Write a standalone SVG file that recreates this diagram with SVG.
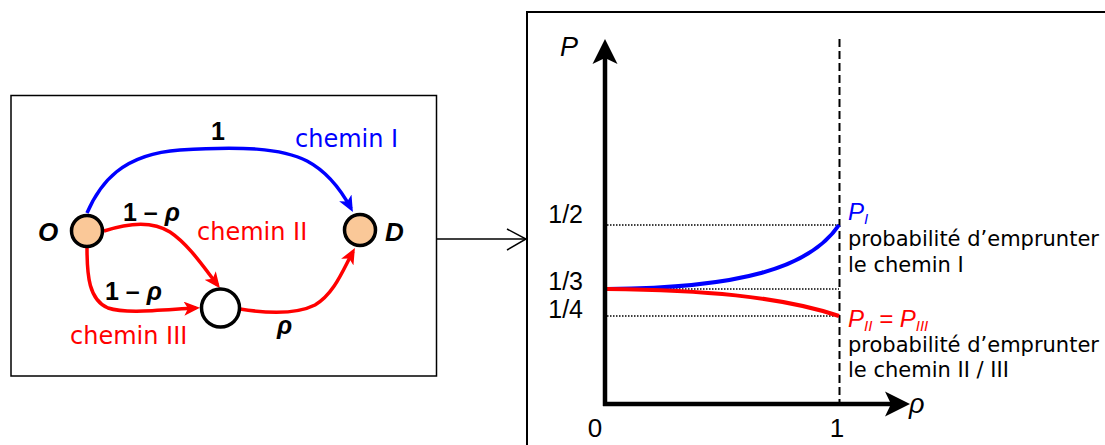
<svg xmlns="http://www.w3.org/2000/svg" width="1105" height="445" viewBox="0 0 1105 445">
<defs>
<style>
.frame{fill:none;stroke:#000}
.edge{fill:none;stroke-width:3.5;stroke-linecap:butt}
.blue{stroke:#0000FF}
.red{stroke:#FF0000}
.node{stroke:#000;stroke-width:3.5}
.lab{font-family:"DejaVu Sans",Verdana,sans-serif}
.ar{font-family:"Liberation Sans",Arial,sans-serif}
.dot{stroke:#000;stroke-width:1.5;stroke-dasharray:1.5 1.5;fill:none}
.curve{fill:none;stroke-width:4}
</style>
<marker id="ahB" viewBox="0 0 16 14" markerUnits="userSpaceOnUse" markerWidth="16" markerHeight="14" refX="12" refY="7" orient="auto">
<path d="M0,0 L16,7 L0,14 L4,7 z" fill="#0000FF"/>
</marker>
<marker id="ahR" viewBox="0 0 16 14" markerUnits="userSpaceOnUse" markerWidth="16" markerHeight="14" refX="12" refY="7" orient="auto">
<path d="M0,0 L16,7 L0,14 L4,7 z" fill="#FF0000"/>
</marker>
</defs>
<rect width="1105" height="445" fill="#fff"/>

<!-- left panel -->
<rect class="frame" x="11" y="95.5" width="425.5" height="280.5" stroke-width="1.5"/>

<g id="connectors">
<path class="edge blue" d="M87,213 C100,183 122,154 180,150 C240,146 282,148 307,161 C326,171 340,188 351,208.5" marker-end="url(#ahB)"/>
<path class="edge red" d="M104,231 C125,224 150,219 170,232 C188,244 203,266 217.5,285" marker-end="url(#ahR)"/>
<path class="edge red" d="M87,248 C87,276 89,300 108,308 C126,314 160,310 196,308" marker-end="url(#ahR)"/>
<path class="edge red" d="M240,309 C265,313 295,315 315,305 C334,294 343,270 353,251.5" marker-end="url(#ahR)"/>
</g>

<g id="node-O">
<circle class="node" cx="87" cy="231" r="15.5" fill="#FAC898"/>
<text class="ar" x="38" y="241" font-size="26" font-weight="bold" font-style="italic">O</text>
</g>
<g id="node-D">
<circle class="node" cx="360" cy="230" r="15.5" fill="#FAC898"/>
<text class="ar" x="385" y="241" font-size="26" font-weight="bold" font-style="italic">D</text>
</g>
<g id="node-M">
<circle class="node" cx="220.5" cy="308" r="19" fill="#fff"/>
</g>

<g id="edge-labels">
<text class="ar" x="218" y="140" font-size="25" font-weight="bold" text-anchor="middle">1</text>
<text class="lab" x="295" y="147" font-size="24" fill="#0000FF">chemin I</text>
<text class="ar" x="123" y="221" font-size="25" font-weight="bold">1 – <tspan font-style="italic">ρ</tspan></text>
<text class="lab" x="197" y="240" font-size="24" fill="#FF0000">chemin II</text>
<text class="ar" x="105" y="300" font-size="25" font-weight="bold">1 – <tspan font-style="italic">ρ</tspan></text>
<text class="lab" x="70" y="344" font-size="24" fill="#FF0000">chemin III</text>
<text class="ar" x="277" y="334" font-size="25" font-weight="bold" font-style="italic">ρ</text>
</g>

<!-- link between panels -->
<g id="link">
<line x1="436" y1="239" x2="526" y2="239" stroke="#000" stroke-width="1.5"/>
<polyline points="507,229 526,239 507,250" fill="none" stroke="#000" stroke-width="1.5"/>
</g>

<!-- right panel: chart -->
<rect class="frame" x="527" y="12" width="700" height="500" stroke-width="2"/>
<g id="chart">
<line x1="839.5" y1="39" x2="839.5" y2="404" stroke="#000" stroke-width="2" stroke-dasharray="8 4"/>
<line class="dot" x1="607" y1="225" x2="839" y2="225"/>
<line class="dot" x1="607" y1="289" x2="839" y2="289"/>
<line class="dot" x1="607" y1="316" x2="839" y2="316"/>
<path class="curve blue" d="M607,289 C740,288 810,268 839,225"/>
<path class="curve red" d="M607,289 C700,290 780,296 839,316"/>
<line x1="605" y1="406" x2="605" y2="56" stroke="#000" stroke-width="4.5"/>
<line x1="603" y1="404" x2="893" y2="404" stroke="#000" stroke-width="4.5"/>
<path d="M605,39 L617.5,64 L605,58 L592.5,64 z" fill="#000"/>
<path d="M910,404 L885,391.5 L891,404 L885,416.5 z" fill="#000"/>
<text class="ar" x="560" y="56" font-size="27" font-style="italic">P</text>
<text class="ar" x="909" y="413" font-size="27" font-style="italic">ρ</text>
<text class="ar" x="595" y="437" font-size="26" text-anchor="middle">0</text>
<text class="ar" x="837" y="437" font-size="26" text-anchor="middle">1</text>
<text class="ar" x="583" y="223" font-size="25" text-anchor="end">1/2</text>
<text class="ar" x="583" y="290" font-size="25" text-anchor="end">1/3</text>
<text class="ar" x="583" y="318" font-size="25" text-anchor="end">1/4</text>
<text class="ar" x="848" y="220" font-size="24" font-style="italic" fill="#0000FF">P<tspan font-size="15" dy="4">I</tspan></text>
<text class="lab" x="848" y="246" font-size="21">probabilité d’emprunter</text>
<text class="lab" x="848" y="272" font-size="21">le chemin I</text>
<text class="ar" x="848" y="327" font-size="24" font-style="italic" fill="#FF0000">P<tspan font-size="15" dy="4">II</tspan><tspan dy="-4"> = P</tspan><tspan font-size="15" dy="4">III</tspan></text>
<text class="lab" x="848" y="352" font-size="21">probabilité d’emprunter</text>
<text class="lab" x="848" y="377" font-size="21">le chemin II / III</text>
</g>
</svg>
